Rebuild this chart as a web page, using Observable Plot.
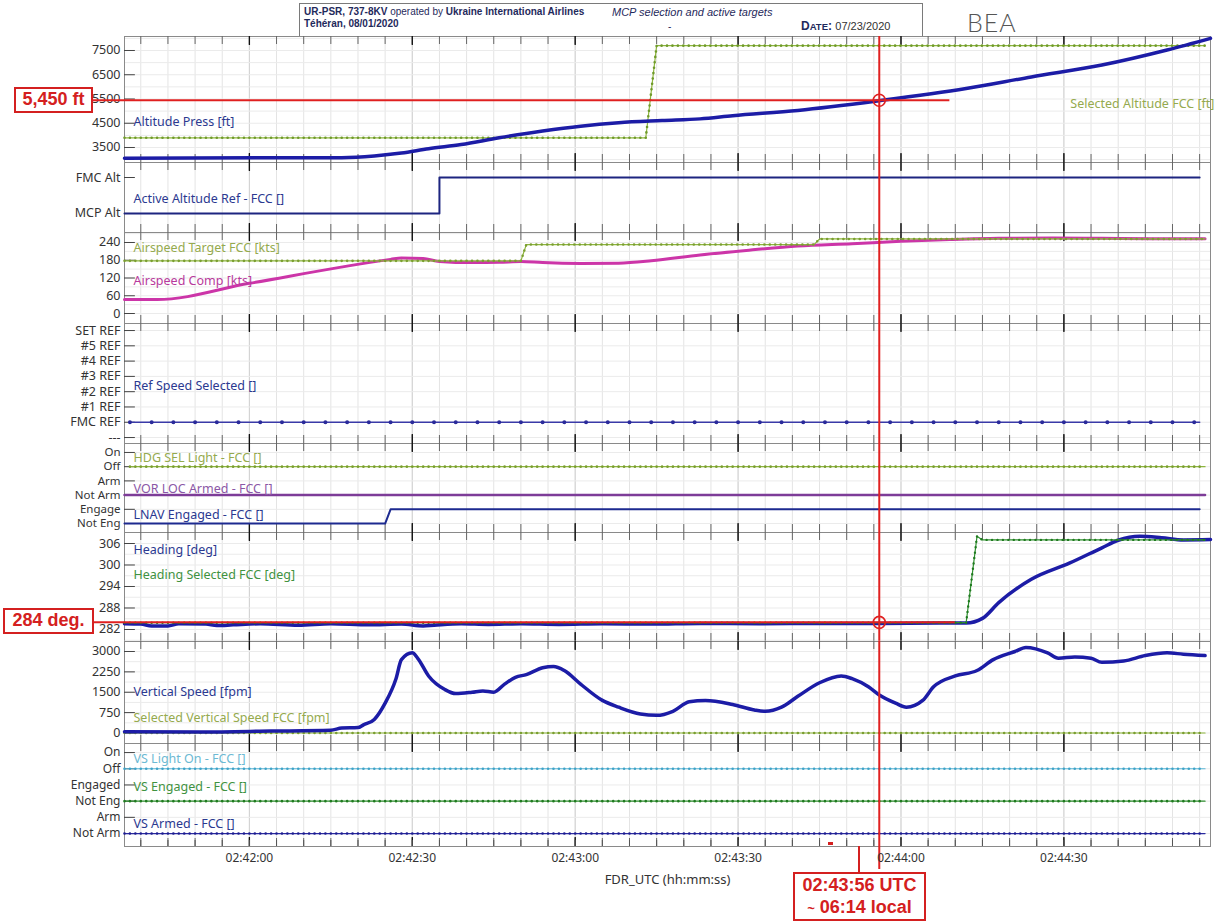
<!DOCTYPE html>
<html><head><meta charset="utf-8">
<script src="https://cdn.jsdelivr.net/npm/d3@7"></script>
<script src="https://cdn.jsdelivr.net/npm/@observablehq/plot@0.6"></script>
<style>
body{margin:0;background:#fff;}
#root{position:relative;width:1225px;height:924px;overflow:hidden;font-family:"Noto Sans",sans-serif;background:#fff;}
.panel{position:absolute;left:0;}
.hdr{position:absolute;font-family:"Liberation Sans",Arial,sans-serif;color:#1f2a5c;font-size:10px;white-space:nowrap;line-height:1;}
.ann{position:absolute;border:2px solid #d42020;background:#fff;color:#d42020;font-family:"Liberation Sans",Arial,sans-serif;font-weight:bold;font-size:18px;display:flex;flex-direction:column;align-items:center;justify-content:center;box-sizing:border-box;line-height:1.2;z-index:5;}
</style></head>
<body><div id="root">
<div class="hdr" style="left:299px;top:3px;width:624px;height:33px;border:1px solid #7a7a7a;border-bottom:none;box-sizing:border-box;"></div>
<div class="hdr" style="left:304px;top:7px;"><b>UR-PSR, 737-8KV</b> operated by <b>Ukraine International Airlines</b></div>
<div class="hdr" style="left:304px;top:19px;"><b>Téhéran, 08/01/2020</b></div>
<div class="hdr" style="left:612px;top:7px;font-style:italic;font-size:11px;">MCP selection and active targets</div>
<div class="hdr" style="left:668px;top:22px;">-</div>
<div class="hdr" style="left:801px;top:20px;font-size:12px;"><b>D<span style="font-size:9.5px">ATE</span>:</b> <span style="font-size:11px;color:#333">07/23/2020</span></div>
<div class="hdr" style="left:967px;top:10px;font-family:Lato,'DejaVu Sans',sans-serif;font-weight:300;font-size:25px;color:#555;letter-spacing:1px;">BEA</div>
</div>
<script>
// ---------- data ----------
const xDomain = ["02:41:37", "02:44:57"];
const timeTicks = ["02:42:00", "02:42:30", "02:43:00", "02:43:30", "02:44:00", "02:44:30"];
const markerTime = "02:43:56";

const altTimes = ["02:41:37","02:42:17","02:42:23","02:42:28","02:42:33","02:42:39","02:42:46","02:42:54","02:43:01","02:43:08","02:43:16","02:43:23","02:43:29","02:43:41","02:43:56","02:44:12","02:44:24","02:44:37","02:44:49","02:44:57"];
const altPress = [3060,3080,3150,3270,3450,3620,3900,4180,4380,4520,4610,4680,4810,5030,5430,5930,6410,6900,7520,8000];
const selAltTimes = ["02:41:37","02:43:13","02:43:14","02:43:15","02:44:56"];
const selAlt = [3900,3900,5800,7700,7700];

const actAltTimes = ["02:41:37","02:42:35","02:44:55"];
const actAlt = [0,1,1]; // 0 = MCP Alt, 1 = FMC Alt

const spdTgtTimes = ["02:41:37","02:42:50","02:42:51","02:43:44","02:43:45","02:44:56"];
const spdTgt = [178,178,233,233,252,252];
const spdTimes = ["02:41:37","02:41:43","02:42:00","02:42:26","02:42:28","02:42:32","02:42:35","02:42:41","02:42:46","02:42:50","02:42:54","02:43:01","02:43:08","02:43:14","02:43:23","02:43:32","02:43:41","02:43:51","02:44:00","02:44:09","02:44:18","02:44:28","02:44:37","02:44:46","02:44:56"];
const spdComp = [47,47,102,183,188,186,176,172,173,176,172,169,170,178,198,214,228,236,244,250,254,255,254,253,253];

const refSpdTimes = ["02:41:38","02:44:55"];
const refSpd = [1,1]; // FMC REF

const hdgSelLtTimes = ["02:41:38","02:44:56"]; const hdgSelLt = [4,4]; // Off
const vorLocTimes = ["02:41:37","02:44:56"]; const vorLoc = [2,2]; // Not Arm
const lnavTimes = ["02:41:37","02:42:25","02:42:26","02:44:55"]; const lnav = [0,0,1,1];

const hdgTimes = ["02:41:37","02:41:40","02:41:42","02:41:45","02:41:47","02:41:52","02:41:54","02:41:57","02:42:02","02:42:09","02:42:15","02:42:22","02:42:28","02:42:32","02:42:34","02:42:39","02:42:44","02:42:50","02:42:57","02:43:05","02:43:14","02:43:23","02:43:34","02:43:45","02:43:56","02:44:07","02:44:12","02:44:15","02:44:18","02:44:24","02:44:31","02:44:37","02:44:40","02:44:44","02:44:48","02:44:52","02:44:57"];
const heading = [283.6,283.5,283.0,283.0,283.6,283.5,283.1,283.3,283.6,283.2,283.6,283.3,283.5,283.0,283.2,283.6,283.4,283.6,283.4,283.6,283.5,283.7,283.6,283.7,283.7,283.8,283.8,285.1,289.5,296.0,300.5,304.8,306.9,308.0,307.6,307.0,307.1];
const hdgSelTimes = ["02:41:37","02:44:12","02:44:14","02:44:15","02:44:56"];
const hdgSel = [283.9,283.9,308.0,307.0,307.0];

const vsTimes = ["02:41:37","02:41:51","02:42:04","02:42:15","02:42:17","02:42:20","02:42:21","02:42:23","02:42:25","02:42:27","02:42:28","02:42:30","02:42:31","02:42:33","02:42:36","02:42:38","02:42:41","02:42:43","02:42:45","02:42:47","02:42:49","02:42:51","02:42:54","02:42:56","02:42:58","02:43:01","02:43:05","02:43:08","02:43:12","02:43:15","02:43:18","02:43:21","02:43:24","02:43:29","02:43:33","02:43:35","02:43:38","02:43:41","02:43:45","02:43:49","02:43:51","02:43:54","02:43:56","02:43:59","02:44:01","02:44:04","02:44:06","02:44:10","02:44:14","02:44:17","02:44:21","02:44:23","02:44:27","02:44:29","02:44:32","02:44:35","02:44:37","02:44:41","02:44:45","02:44:49","02:44:52","02:44:56"];
const vs = [50,40,70,100,180,200,300,500,1100,2000,2700,2950,2750,2100,1600,1450,1500,1550,1500,1800,2050,2150,2400,2450,2300,1800,1200,950,700,650,800,1150,1200,1050,850,800,950,1350,1850,2100,2000,1700,1400,1100,950,1200,1700,2100,2300,2700,3000,3150,2950,2750,2800,2750,2600,2650,2850,2950,2900,2850];
const selVsTimes = ["02:41:37","02:44:56"]; const selVs = [0,0];

const vsLightTimes = ["02:41:37","02:44:56"]; const vsLight = [4,4]; // Off
const vsEngTimes = ["02:41:37","02:44:56"]; const vsEng = [2,2]; // Not Eng
const vsArmTimes = ["02:41:37","02:44:56"]; const vsArm = [0,0]; // Not Arm

const altMark = {time: "02:43:56", value: 5450, end: "02:44:09"};
const hdgMark = {time: "02:43:56", value: 284, end: "02:44:10"};

const p2Labels = ["MCP Alt","FMC Alt"];
const p4Labels = ["---","FMC REF","#1 REF","#2 REF","#3 REF","#4 REF","#5 REF","SET REF"];
const p5Labels = ["Not Eng","Engage","Not Arm","Arm","Off","On"];
const p8Labels = ["Not Arm","Arm","Not Eng","Engaged","Off","On"];

// ---------- helpers ----------
const T = s => { const [h,m,x] = s.split(":").map(Number); return h*3600 + m*60 + x; };
const fmtT = v => [Math.floor(v/3600), Math.floor((v%3600)/60), v%60].map(n => String(n).padStart(2,"0")).join(":");
const T0 = T(xDomain[0]), T1 = T(xDomain[1]);
const X0 = 124, X1 = 1210, W = 1225;
const pxs = (X1 - X0) / (T1 - T0);
const ticks5 = d3.range(Math.ceil(T0/5)*5, T1 + 0.001, 5);
const ticks30 = ticks5.filter(t => t % 30 === 0);
const RED = "#e02020";
const num = d => String(d);

const NAVY = "#1c1ca6", NAVYL = "#2b3990", OLIVE = "#8db53c", OLIVEL = "#95aa4e", GREEN = "#2f8f2f", GREENL = "#3f923f",
      MAG = "#cc35a8", MAGL = "#b83a9c", PURP = "#7d3c98", PURPL = "#8b57a6", CYAN = "#5ab6d6", CYANL = "#6cb9d3";

function line(times, values, o) {
  return Plot.line(values, {x: times.map(T), y: values, stroke: o.stroke, strokeWidth: o.width ?? 2, curve: o.curve ?? "linear", strokeLinejoin: "round", strokeLinecap: "round"});
}
function dotted(times, values, o) {
  const gap = (o.every ?? 1) * pxs;
  return [
    Plot.line(values, {x: times.map(T), y: values, stroke: o.stroke, strokeWidth: o.width ?? 1, curve: o.curve ?? "linear"}),
    Plot.line(values, {x: times.map(T), y: values, stroke: o.dot ?? o.stroke, strokeWidth: o.dotSize ?? 3, strokeDasharray: `0 ${gap}`, strokeLinecap: "round", curve: o.curve ?? "linear"})
  ];
}
function label(text, y, fill, o = {}) {
  return Plot.text([0], {y: [y], text: [text], frameAnchor: o.right ? "right" : "left", textAnchor: o.right ? "end" : "start", dx: o.right ? 4 : 9, fill, fontSize: 12.5, fontFamily: "Noto Sans"});
}

const root = document.getElementById("root");
function panel(cfg) {
  const h = cfg.bottom - cfg.top;
  const mb = cfg.marginBottom || 0;
  const redRule = cfg.redExtend
    ? Plot.ruleX([T(markerTime)], {y1: cfg.yDomain[1], y2: cfg.redExtend, stroke: RED, strokeWidth: 2})
    : Plot.ruleX([T(markerTime)], {stroke: RED, strokeWidth: 2});
  const marks = [
    Plot.ruleX(ticks5, {stroke: "#e4e4e4", strokeWidth: 1}),
    Plot.ruleX(ticks30, {stroke: "#d2d2d2", strokeWidth: 1}),
    Plot.ruleY(cfg.grid, {stroke: "#ebebeb", strokeWidth: 1}),
    Plot.frame({stroke: "#8a8a8a"}),
    Plot.tickX(ticks5, {insetBottom: h - 8, stroke: "#666"}),
    Plot.tickX(ticks5, {insetTop: h - 8, stroke: "#666"}),
    Plot.tickX(ticks30, {insetBottom: h - 9, stroke: "#111", strokeWidth: 1.3}),
    Plot.tickX(ticks30, {insetTop: h - 9, stroke: "#111", strokeWidth: 1.3}),
    Plot.ruleY(cfg.yTicks, {x1: T0, x2: T0 + 2, stroke: "#444"}),
    Plot.axisY(cfg.yTicks, {tickSize: 0, tickPadding: 4, tickFormat: cfg.yFormat, fontSize: cfg.axisFont ?? 12.5, fill: "#333"}),
    ...cfg.marks.flat(),
    redRule,
    ...(cfg.after || []).flat()
  ];
  if (cfg.xAxis) {
    marks.push(Plot.axisX(timeTicks.map(T), {tickSize: 0, tickPadding: 7, tickFormat: fmtT, fontSize: 12, fill: "#333"}));
    marks.push(Plot.tickX(ticks5, {insetTop: h - 6, stroke: "#555"}));
    marks.push(Plot.text(["FDR_UTC (hh:mm:ss)"], {frameAnchor: "bottom", dy: 37, fontSize: 13, fill: "#333", fontFamily: "Noto Sans"}));
  }
  const svg = Plot.plot({
    width: W, height: h + mb,
    marginLeft: X0, marginRight: W - X1, marginTop: 0, marginBottom: mb,
    x: {domain: [T0, T1], axis: null},
    y: {domain: cfg.yDomain, axis: null},
    style: {background: "transparent", overflow: "visible", fontFamily: "Noto Sans", color: "#333"},
    marks
  });
  svg.classList.add("panel");
  svg.style.position = "absolute";
  svg.style.top = cfg.top + "px";
  svg.style.left = "0px";
  root.appendChild(svg);
}

// Panel 1: altitude
panel({top: 36, bottom: 162, yDomain: [2881, 8077], yTicks: [3500,4500,5500,6500,7500], yFormat: num,
  grid: d3.range(3000, 8001, 500),
  marks: [
    dotted(selAltTimes, selAlt, {stroke: OLIVE, dot: "#6f9a2a", every: 1, dotSize: 2.6, width: 1.2}),
    line(altTimes, altPress, {stroke: NAVY, width: 3.5, curve: "monotone-x"}),
    label("Altitude Press [ft]", 4570, NAVYL),
    label("Selected Altitude FCC [ft]", 5300, OLIVEL, {right: true}),
  ],
  after: [
    Plot.ruleY([altMark.value], {x1: T0 - 6, x2: T(altMark.end), stroke: RED, strokeWidth: 2}),
    Plot.dot([altMark], {x: d => T(d.time), y: d => d.value, r: 6, stroke: RED, strokeWidth: 1.6, fill: "none"})
  ]
});
// Panel 2: active altitude ref
panel({top: 162, bottom: 232, yDomain: [-0.528, 1.417], yTicks: [0,1], yFormat: d => p2Labels[d], grid: [],
  marks: [
    line(actAltTimes, actAlt, {stroke: "#1d2580", width: 2, curve: "step-after"}),
    label("Active Altitude Ref - FCC []", 0.39, NAVYL)
  ]
});
// Panel 3: airspeed
panel({top: 232, bottom: 323, yDomain: [-33.8, 273.8], yTicks: [0,60,120,180,240], yFormat: num,
  grid: d3.range(0, 271, 30),
  marks: [
    line(spdTimes, spdComp, {stroke: MAG, width: 3, curve: "monotone-x"}),
    dotted(spdTgtTimes, spdTgt, {stroke: OLIVE, dot: "#7a9e30", every: 1, dotSize: 2.6, width: 1.2}),
    label("Airspeed Target FCC [kts]", 220, OLIVEL),
    label("Airspeed Comp [kts]", 111.5, MAGL)
  ]
});
// Panel 4: ref speed selected
panel({top: 323, bottom: 443, yDomain: [-0.39, 7.46], yTicks: d3.range(0, 8), yFormat: d => p4Labels[d],
  grid: d3.range(0, 8),
  marks: [
    dotted(refSpdTimes, refSpd, {stroke: "#3a3aa8", dot: "#2a2a9a", every: 4, dotSize: 4, width: 1.6}),
    label("Ref Speed Selected []", 3.34, NAVYL)
  ]
});
// Panel 5: HDG SEL / VOR LOC / LNAV
panel({top: 443, bottom: 532, yDomain: [-0.63, 5.63], yTicks: d3.range(0, 6), yFormat: d => p5Labels[d], axisFont: 11.5,
  grid: d3.range(0, 6),
  marks: [
    dotted(hdgSelLtTimes, hdgSelLt, {stroke: OLIVE, dot: "#7a9e30", every: 1, dotSize: 2.6, width: 1.2}),
    line(vorLocTimes, vorLoc, {stroke: PURP, width: 2.5}),
    line(lnavTimes, lnav, {stroke: "#1d2a90", width: 2}),
    label("HDG SEL Light - FCC []", 4.58, OLIVEL),
    label("VOR LOC Armed - FCC []", 2.46, PURPL),
    label("LNAV Engaged - FCC []", 0.63, NAVYL)
  ]
});
// Panel 6: heading
panel({top: 532, bottom: 641, yDomain: [278.65, 309.07], yTicks: [282,288,294,300,306], yFormat: num,
  grid: d3.range(279, 309, 3),
  marks: [
    line(hdgTimes, heading, {stroke: NAVY, width: 3.5, curve: "monotone-x"}),
    dotted(hdgSelTimes, hdgSel, {stroke: GREEN, dot: "#1f7a1f", every: 1, dotSize: 2.4, width: 1.2}),
    label("Heading [deg]", 304.05, NAVYL),
    label("Heading Selected FCC [deg]", 297.07, GREENL)
  ],
  after: [
    Plot.ruleY([hdgMark.value], {x1: T0 - 6, x2: T(hdgMark.end), stroke: RED, strokeWidth: 2}),
    Plot.dot([hdgMark], {x: d => T(d.time), y: d => d.value, r: 6, stroke: RED, strokeWidth: 1.6, fill: "none"})
  ]
});
// Panel 7: vertical speed
panel({top: 641, bottom: 743, yDomain: [-386.5, 3368], yTicks: [0,750,1500,2250,3000], yFormat: num,
  grid: d3.range(0, 3376, 375),
  marks: [
    dotted(selVsTimes, selVs, {stroke: OLIVE, dot: "#7a9e30", every: 1, dotSize: 2.6, width: 1.2}),
    line(vsTimes, vs, {stroke: NAVY, width: 3.5, curve: "monotone-x"}),
    label("Vertical Speed [fpm]", 1491, NAVYL),
    label("Selected Vertical Speed FCC [fpm]", 570, OLIVEL)
  ]
});
// Panel 8: VS modes + time axis
panel({top: 743, bottom: 846, marginBottom: 78, yDomain: [-0.8, 5.56], yTicks: d3.range(0, 6), yFormat: d => p8Labels[d], axisFont: 12,
  grid: d3.range(0, 6), xAxis: true, redExtend: -2.22,
  marks: [
    dotted(vsLightTimes, vsLight, {stroke: CYAN, dot: "#3fa3c8", every: 1, dotSize: 2.6, width: 1.2}),
    dotted(vsEngTimes, vsEng, {stroke: GREEN, dot: "#1f7a1f", every: 1, dotSize: 2.6, width: 1.2}),
    dotted(vsArmTimes, vsArm, {stroke: "#2a2aa0", dot: "#1c1c90", every: 1, dotSize: 2.6, width: 1.2}),
    label("VS Light On - FCC []", 4.63, CYANL),
    label("VS Engaged - FCC []", 2.9, GREENL),
    label("VS Armed - FCC []", 0.62, NAVYL)
  ]
});

// annotations (HTML boxes)
function ann(html, left, top, w, h) {
  const d = document.createElement("div");
  d.className = "ann";
  d.style.left = left + "px"; d.style.top = top + "px"; d.style.width = w + "px"; d.style.height = h + "px";
  d.innerHTML = html;
  root.appendChild(d);
}
ann("5,450 ft", 14, 87, 79, 26);
ann("284 deg.", 3, 608, 91, 26);
ann("<div>02:43:56 UTC</div><div><span style='font-size:13px'>~</span> 06:14 local</div>", 793, 872, 133, 49);
const stub = document.createElement("div");
stub.style.cssText = "position:absolute;left:858px;top:846px;width:2px;height:27px;background:#d42020;z-index:4;";
root.appendChild(stub);
const dash = document.createElement("div");
dash.style.cssText = "position:absolute;left:828px;top:842px;width:5px;height:3px;background:#d42020;z-index:4;";
root.appendChild(dash);
</script>
</body></html>
